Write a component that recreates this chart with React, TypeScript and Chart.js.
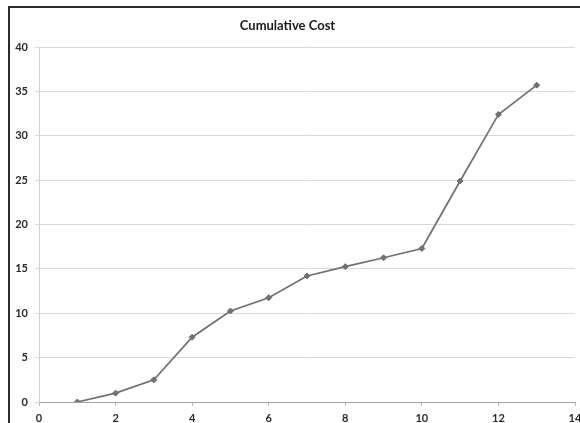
import React, { useEffect, useRef } from "react";
import { Chart, registerables } from "chart.js";

Chart.register(...registerables);

const periods = [1, 2, 3, 4, 5, 6, 7, 8, 9, 10, 11, 12, 13];
const cumulativeCost = [0, 1.0, 2.5, 7.3, 10.25, 11.75, 14.2, 15.25, 16.25, 17.3, 24.9, 32.4, 35.7];
const chartTitle = "Cumulative Cost";
const xMin = 0, xMax = 14, xStep = 2;
const yMin = 0, yMax = 40, yStep = 5;

export default function App() {
  const ref = useRef<HTMLCanvasElement | null>(null);
  useEffect(() => {
    if (!ref.current) return;
    const data = periods.map((p, i) => ({ x: p, y: cumulativeCost[i] }));
    const tickFont = { family: "Lato, 'Open Sans', sans-serif", size: 11, weight: 700 as any };
    const chart = new Chart(ref.current, {
      type: "line",
      data: {
        datasets: [
          {
            label: chartTitle,
            data,
            borderColor: "#707070",
            backgroundColor: "#707070",
            borderWidth: 1.7,
            pointStyle: "rectRot",
            pointRadius: 3,
            pointBorderWidth: 1,
            tension: 0,
          },
        ],
      },
      options: {
        animation: false,
        responsive: false,
        maintainAspectRatio: false,
        layout: { padding: { left: 0, right: 5, top: 0, bottom: 0 } },
        plugins: {
          legend: { display: false },
          tooltip: { enabled: false },
          title: {
            display: true,
            text: chartTitle,
            color: "#1a1a1a",
            font: { family: "Lato, 'Open Sans', sans-serif", size: 13, weight: 700 as any },
            padding: { top: 18, bottom: 13.4 },
          },
        },
        scales: {
          x: {
            type: "linear",
            min: xMin,
            max: xMax,
            ticks: { stepSize: xStep, color: "#2a2a2a", font: tickFont, padding: 6, maxRotation: 0 },
            grid: { display: true, drawOnChartArea: false, drawTicks: true, tickLength: 4, color: "#bfbfbf" },
            border: { display: true, color: "#a6a6a6", width: 1 },
            afterFit: (s: any) => {
              s.height = 21;
              s.paddingLeft = 0;
              s.paddingRight = 0;
            },
          },
          y: {
            min: yMin,
            max: yMax,
            ticks: { stepSize: yStep, color: "#2a2a2a", font: tickFont, padding: 7 },
            grid: { color: "#d9d9d9", lineWidth: 1, tickLength: 4 },
            border: { display: true, color: "#cfcfcf", width: 1 },
            afterFit: (s: any) => {
              s.width = 39;
              s.paddingTop = 0;
              s.paddingBottom = 0;
            },
          },
        },
      },
    });
    return () => chart.destroy();
  }, []);
  return (
    <div style={{ position: "fixed", left: 0, top: 0, width: 580, height: 423, background: "#fff", overflow: "hidden" }}>
      <canvas ref={ref} width={580} height={423} style={{ position: "absolute", left: 0, top: 0 }} />
      <div
        style={{
          position: "absolute",
          left: 8,
          top: 6,
          width: 600,
          height: 440,
          borderTop: "2px solid #2b2b2b",
          borderLeft: "2px solid #2b2b2b",
          pointerEvents: "none",
        }}
      />
    </div>
  );
}
